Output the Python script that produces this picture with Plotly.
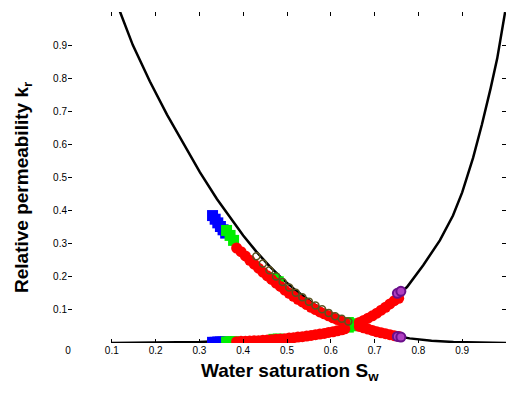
import plotly.graph_objects as go

# ---- data ----
tick_vals = [0, 0.1, 0.2, 0.3, 0.4, 0.5, 0.6, 0.7, 0.8, 0.9, 1]
x_tick_text = ["0", "0.1", "0.2", "0.3", "0.4", "0.5", "0.6", "0.7", "0.8", "0.9", "1"]
y_tick_text = ["", "0.1", "0.2", "0.3", "0.4", "0.5", "0.6", "0.7", "0.8", "0.9", ""]

x_title = "<b>Water saturation S<sub>w</sub></b>"
y_title = "<b>Relative permeability k<sub>r</sub></b>"

# oil relative permeability curve
kro_sw = [0.10, 0.119, 0.148, 0.187, 0.226, 0.263, 0.301, 0.34, 0.37, 0.40, 0.43, 0.46,
          0.49, 0.52, 0.559, 0.59, 0.621, 0.66, 0.70, 0.735, 0.78, 0.83, 0.88, 0.94, 1.0]
kro = [1.07, 1.0, 0.90, 0.79, 0.69, 0.602, 0.516, 0.435, 0.378, 0.325, 0.276, 0.232,
       0.193, 0.159, 0.12, 0.095, 0.074, 0.053, 0.036, 0.025, 0.014, 0.007, 0.003, 0.001, 0.0]

# water relative permeability curve
krw_sw = [0.10, 0.20, 0.30, 0.40, 0.48, 0.55, 0.60, 0.66, 0.71, 0.74, 0.758, 0.774,
          0.811, 0.849, 0.879, 0.90, 0.925, 0.945, 0.965, 0.98, 0.998]
krw = [0.0, 0.001, 0.003, 0.009, 0.018, 0.03, 0.042, 0.062, 0.098, 0.13, 0.151, 0.169,
       0.235, 0.31, 0.385, 0.455, 0.56, 0.66, 0.77, 0.86, 1.0]

# measured points
blue_sw = [0.330, 0.336, 0.342, 0.348, 0.354, 0.360]
blue_kro = [0.385, 0.374, 0.363, 0.352, 0.342, 0.332]
blue_krw = [0.002, 0.002, 0.003, 0.003, 0.003, 0.003]

green_sw = [0.362, 0.370, 0.378, 0.470, 0.480, 0.640, 0.648, 0.656]
green_kro = [0.340, 0.325, 0.310, 0.195, 0.185, 0.062, 0.058, 0.054]
green_krw = [0.003, 0.004, 0.004, 0.011, 0.012, 0.048, 0.052, 0.056]

red_lo_sw = [0.385, 0.395, 0.405, 0.415, 0.425, 0.435, 0.445, 0.455, 0.465, 0.475, 0.485,
             0.495, 0.505, 0.515, 0.525, 0.535, 0.545, 0.555, 0.565, 0.575, 0.585, 0.595,
             0.605, 0.615, 0.625, 0.632]
red_kro = [0.287, 0.276, 0.263, 0.250, 0.238, 0.226, 0.214, 0.203, 0.192, 0.181, 0.171,
           0.160, 0.150, 0.141, 0.132, 0.124, 0.116, 0.108, 0.101, 0.094, 0.088, 0.082,
           0.076, 0.071, 0.066, 0.062]
red_krw = [0.004, 0.005, 0.005, 0.006, 0.007, 0.007, 0.008, 0.009, 0.010, 0.011, 0.012,
           0.013, 0.015, 0.016, 0.018, 0.019, 0.021, 0.023, 0.025, 0.027, 0.029, 0.032,
           0.034, 0.037, 0.040, 0.043]

red_hi_sw = [0.665, 0.675, 0.685, 0.695, 0.705, 0.715, 0.725, 0.735, 0.745, 0.755]
red_hi_kro = [0.050, 0.046, 0.042, 0.038, 0.034, 0.031, 0.028, 0.025, 0.022, 0.020]
red_hi_krw = [0.062, 0.068, 0.075, 0.082, 0.090, 0.099, 0.108, 0.118, 0.128, 0.135]

purple_sw = [0.752, 0.760]
purple_kro = [0.020, 0.018]
purple_krw = [0.150, 0.156]

circ_sw = [0.43, 0.445, 0.46, 0.475, 0.49, 0.505, 0.52, 0.535, 0.55, 0.565, 0.58,
           0.595, 0.61, 0.625, 0.64]
circ_kro = [0.262, 0.240, 0.220, 0.201, 0.184, 0.168, 0.152, 0.138, 0.125, 0.113, 0.102,
            0.091, 0.081, 0.073, 0.065]

fig = go.Figure()

line_style = dict(color="black", width=2.5)
fig.add_trace(go.Scatter(x=kro_sw, y=kro, mode="lines", line=line_style, showlegend=False))
fig.add_trace(go.Scatter(x=krw_sw, y=krw, mode="lines", line=line_style, showlegend=False))


def pts(x, y, color, size=11, symbol="circle", lw=0, lc=None):
    fig.add_trace(go.Scatter(
        x=x, y=y, mode="markers", showlegend=False,
        marker=dict(color=color, size=size, symbol=symbol,
                    line=dict(width=lw, color=lc or color))))


pts(blue_sw, blue_kro, "#0000ff", symbol="square")
pts(blue_sw, blue_krw, "#0000ff", symbol="square")
pts(green_sw, green_kro, "#00ee00", symbol="square")
pts(green_sw, green_krw, "#00ee00", symbol="square")
pts(red_lo_sw, red_kro, "#ff0000")
pts(red_lo_sw, red_krw, "#ff0000")
pts(red_hi_sw, red_hi_kro, "#ff0000")
pts(red_hi_sw, red_hi_krw, "#ff0000")
pts(circ_sw, circ_kro, "#5b5320", size=7, symbol="circle-open", lw=1.5)
pts(purple_sw, purple_kro, "#b040c0", size=9, lw=2, lc="#6a0f8a")
pts(purple_sw, purple_krw, "#b040c0", size=9, lw=2, lc="#6a0f8a")

font_family = "Liberation Sans, Arial, sans-serif"
tick_font = dict(family=font_family, size=10, color="black")
title_font = dict(family=font_family, size=19, color="black")

fig.update_layout(
    width=507, height=394,
    margin=dict(l=68, r=1, t=12, b=51),
    paper_bgcolor="white", plot_bgcolor="white",
    xaxis=dict(range=[0, 1], tickvals=tick_vals, ticktext=x_tick_text,
               ticks="inside", ticklen=4, tickcolor="black", mirror="ticks",
               showline=False, showgrid=False, zeroline=False, tickfont=tick_font),
    yaxis=dict(range=[0, 1], tickvals=tick_vals, ticktext=y_tick_text,
               ticks="inside", ticklen=4, tickcolor="black", mirror="ticks",
               showline=False, showgrid=False, zeroline=False, tickfont=tick_font),
    annotations=[
        dict(text=x_title, xref="paper", yref="paper", x=0.507, y=-0.088,
             xanchor="center", yanchor="middle", showarrow=False, font=title_font),
        dict(text=y_title, xref="paper", yref="paper", x=-0.103, y=0.471,
             xanchor="center", yanchor="middle", showarrow=False, textangle=-90,
             font=title_font),
    ],
)

fig.write_html("out.html")
